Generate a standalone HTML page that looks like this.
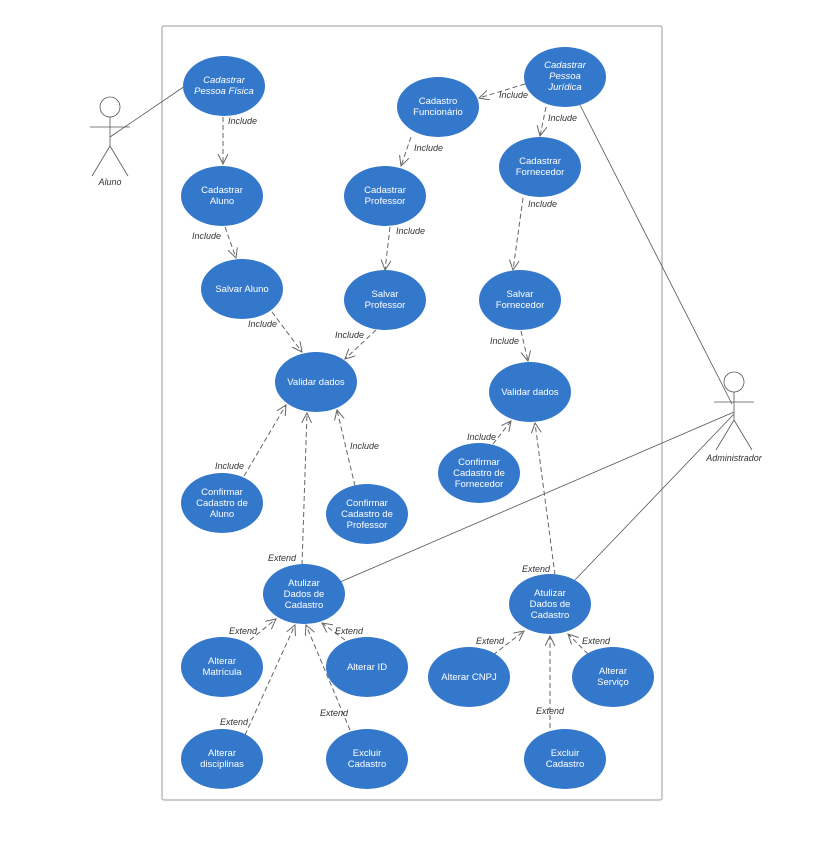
<!DOCTYPE html>
<html><head><meta charset="utf-8"><style>
body{margin:0;background:#fff;}
svg text{font-family:"Liberation Sans",sans-serif;}
.e{fill:#3478cc;}
.t{fill:#fff;font-size:9.5px;text-anchor:middle;}
.l{fill:#333;font-size:9px;font-style:italic;}
.d{stroke:#666;stroke-width:1;stroke-dasharray:5,3;fill:none;marker-end:url(#a);}
.s{stroke:#555;stroke-width:0.8;fill:none;}
</style></head><body>
<svg width="830" height="837" xmlns="http://www.w3.org/2000/svg">
<defs><marker id="a" markerWidth="12" markerHeight="12" refX="10" refY="5" orient="auto" markerUnits="userSpaceOnUse"><path d="M0,0 L10,5 L0,10" fill="none" stroke="#666" stroke-width="1"/></marker></defs>
<rect x="162" y="26" width="500" height="774" fill="none" stroke="#999" stroke-width="1" rx="2"/>
<!-- actors -->
<g class="s">
<circle cx="110" cy="107" r="10" fill="#fff"/><line x1="110" y1="117" x2="110" y2="146"/><line x1="90" y1="127" x2="130" y2="127"/><line x1="110" y1="146" x2="92" y2="176"/><line x1="110" y1="146" x2="128" y2="176"/>
<circle cx="734" cy="382" r="10" fill="#fff"/><line x1="734" y1="392" x2="734" y2="420"/><line x1="714" y1="402" x2="754" y2="402"/><line x1="734" y1="420" x2="716" y2="450"/><line x1="734" y1="420" x2="752" y2="450"/>
<line x1="110" y1="137" x2="185" y2="86"/>
<line x1="580" y1="105" x2="732" y2="404"/>
<line x1="340" y1="582" x2="734" y2="412"/>
<line x1="575" y1="580" x2="734" y2="414"/>
</g>
<text class="l" x="110" y="185" text-anchor="middle">Aluno</text>
<text class="l" x="734" y="461" text-anchor="middle">Administrador</text>
<!-- arrows -->
<path class="d" d="M223,117 L223,164"/>
<path class="d" d="M525,84 L479,98"/>
<path class="d" d="M546,107 L540,136"/>
<path class="d" d="M411,137 L401,166"/>
<path class="d" d="M225,227 L236,258"/>
<path class="d" d="M390,227 L385,270"/>
<path class="d" d="M523,198 L513,270"/>
<path class="d" d="M272,312 L302,352"/>
<path class="d" d="M376,330 L345,359"/>
<path class="d" d="M521,331 L528,361"/>
<path class="d" d="M244,476 L286,405"/>
<path class="d" d="M355,486 L337,410"/>
<path class="d" d="M493,444 L511,421"/>
<path class="d" d="M302,565 L307,413"/>
<path class="d" d="M555,575 L535,423"/>
<path class="d" d="M250,640 L276,619"/>
<path class="d" d="M345,640 L322,623"/>
<path class="d" d="M245,735 L295,625"/>
<path class="d" d="M350,730 L306,625"/>
<path class="d" d="M493,655 L524,631"/>
<path class="d" d="M588,654 L568,634"/>
<path class="d" d="M550,728 L550,636"/>
<!-- labels -->
<g class="l">
<text x="228" y="124">Include</text>
<text x="499" y="98">Include</text>
<text x="548" y="121">Include</text>
<text x="414" y="151">Include</text>
<text x="192" y="239">Include</text>
<text x="396" y="234">Include</text>
<text x="528" y="207">Include</text>
<text x="248" y="327">Include</text>
<text x="335" y="338">Include</text>
<text x="490" y="344">Include</text>
<text x="215" y="469">Include</text>
<text x="350" y="449">Include</text>
<text x="467" y="440">Include</text>
<text x="268" y="561">Extend</text>
<text x="522" y="572">Extend</text>
<text x="229" y="634">Extend</text>
<text x="335" y="634">Extend</text>
<text x="220" y="725">Extend</text>
<text x="320" y="716">Extend</text>
<text x="476" y="644">Extend</text>
<text x="582" y="644">Extend</text>
<text x="536" y="714">Extend</text>
</g>
<!-- ellipses -->
<g>
<ellipse class="e" cx="224" cy="86" rx="41" ry="30"/><text class="t" font-style="italic" x="224" y="83">Cadastrar</text><text class="t" font-style="italic" x="224" y="94">Pessoa Física</text>
<ellipse class="e" cx="438" cy="107" rx="41" ry="30"/><text class="t" x="438" y="104">Cadastro</text><text class="t" x="438" y="115">Funcionário</text>
<ellipse class="e" cx="565" cy="77" rx="41" ry="30"/><text class="t" font-style="italic" x="565" y="68">Cadastrar</text><text class="t" font-style="italic" x="565" y="79">Pessoa</text><text class="t" font-style="italic" x="565" y="90">Jurídica</text>
<ellipse class="e" cx="222" cy="196" rx="41" ry="30"/><text class="t" x="222" y="193">Cadastrar</text><text class="t" x="222" y="204">Aluno</text>
<ellipse class="e" cx="385" cy="196" rx="41" ry="30"/><text class="t" x="385" y="193">Cadastrar</text><text class="t" x="385" y="204">Professor</text>
<ellipse class="e" cx="540" cy="167" rx="41" ry="30"/><text class="t" x="540" y="164">Cadastrar</text><text class="t" x="540" y="175">Fornecedor</text>
<ellipse class="e" cx="242" cy="289" rx="41" ry="30"/><text class="t" x="242" y="292">Salvar Aluno</text>
<ellipse class="e" cx="385" cy="300" rx="41" ry="30"/><text class="t" x="385" y="297">Salvar</text><text class="t" x="385" y="308">Professor</text>
<ellipse class="e" cx="520" cy="300" rx="41" ry="30"/><text class="t" x="520" y="297">Salvar</text><text class="t" x="520" y="308">Fornecedor</text>
<ellipse class="e" cx="316" cy="382" rx="41" ry="30"/><text class="t" x="316" y="385">Validar dados</text>
<ellipse class="e" cx="530" cy="392" rx="41" ry="30"/><text class="t" x="530" y="395">Validar dados</text>
<ellipse class="e" cx="479" cy="473" rx="41" ry="30"/><text class="t" x="479" y="465">Confirmar</text><text class="t" x="479" y="476">Cadastro de</text><text class="t" x="479" y="487">Fornecedor</text>
<ellipse class="e" cx="222" cy="503" rx="41" ry="30"/><text class="t" x="222" y="495">Confirmar</text><text class="t" x="222" y="506">Cadastro de</text><text class="t" x="222" y="517">Aluno</text>
<ellipse class="e" cx="367" cy="514" rx="41" ry="30"/><text class="t" x="367" y="506">Confirmar</text><text class="t" x="367" y="517">Cadastro de</text><text class="t" x="367" y="528">Professor</text>
<ellipse class="e" cx="304" cy="594" rx="41" ry="30"/><text class="t" x="304" y="586">Atulizar</text><text class="t" x="304" y="597">Dados de</text><text class="t" x="304" y="608">Cadastro</text>
<ellipse class="e" cx="550" cy="604" rx="41" ry="30"/><text class="t" x="550" y="596">Atulizar</text><text class="t" x="550" y="607">Dados de</text><text class="t" x="550" y="618">Cadastro</text>
<ellipse class="e" cx="222" cy="667" rx="41" ry="30"/><text class="t" x="222" y="664">Alterar</text><text class="t" x="222" y="675">Matrícula</text>
<ellipse class="e" cx="367" cy="667" rx="41" ry="30"/><text class="t" x="367" y="670">Alterar ID</text>
<ellipse class="e" cx="469" cy="677" rx="41" ry="30"/><text class="t" x="469" y="680">Alterar CNPJ</text>
<ellipse class="e" cx="613" cy="677" rx="41" ry="30"/><text class="t" x="613" y="674">Alterar</text><text class="t" x="613" y="685">Serviço</text>
<ellipse class="e" cx="222" cy="759" rx="41" ry="30"/><text class="t" x="222" y="756">Alterar</text><text class="t" x="222" y="767">disciplinas</text>
<ellipse class="e" cx="367" cy="759" rx="41" ry="30"/><text class="t" x="367" y="756">Excluir</text><text class="t" x="367" y="767">Cadastro</text>
<ellipse class="e" cx="565" cy="759" rx="41" ry="30"/><text class="t" x="565" y="756">Excluir</text><text class="t" x="565" y="767">Cadastro</text>
</g>
</svg>
</body></html>
